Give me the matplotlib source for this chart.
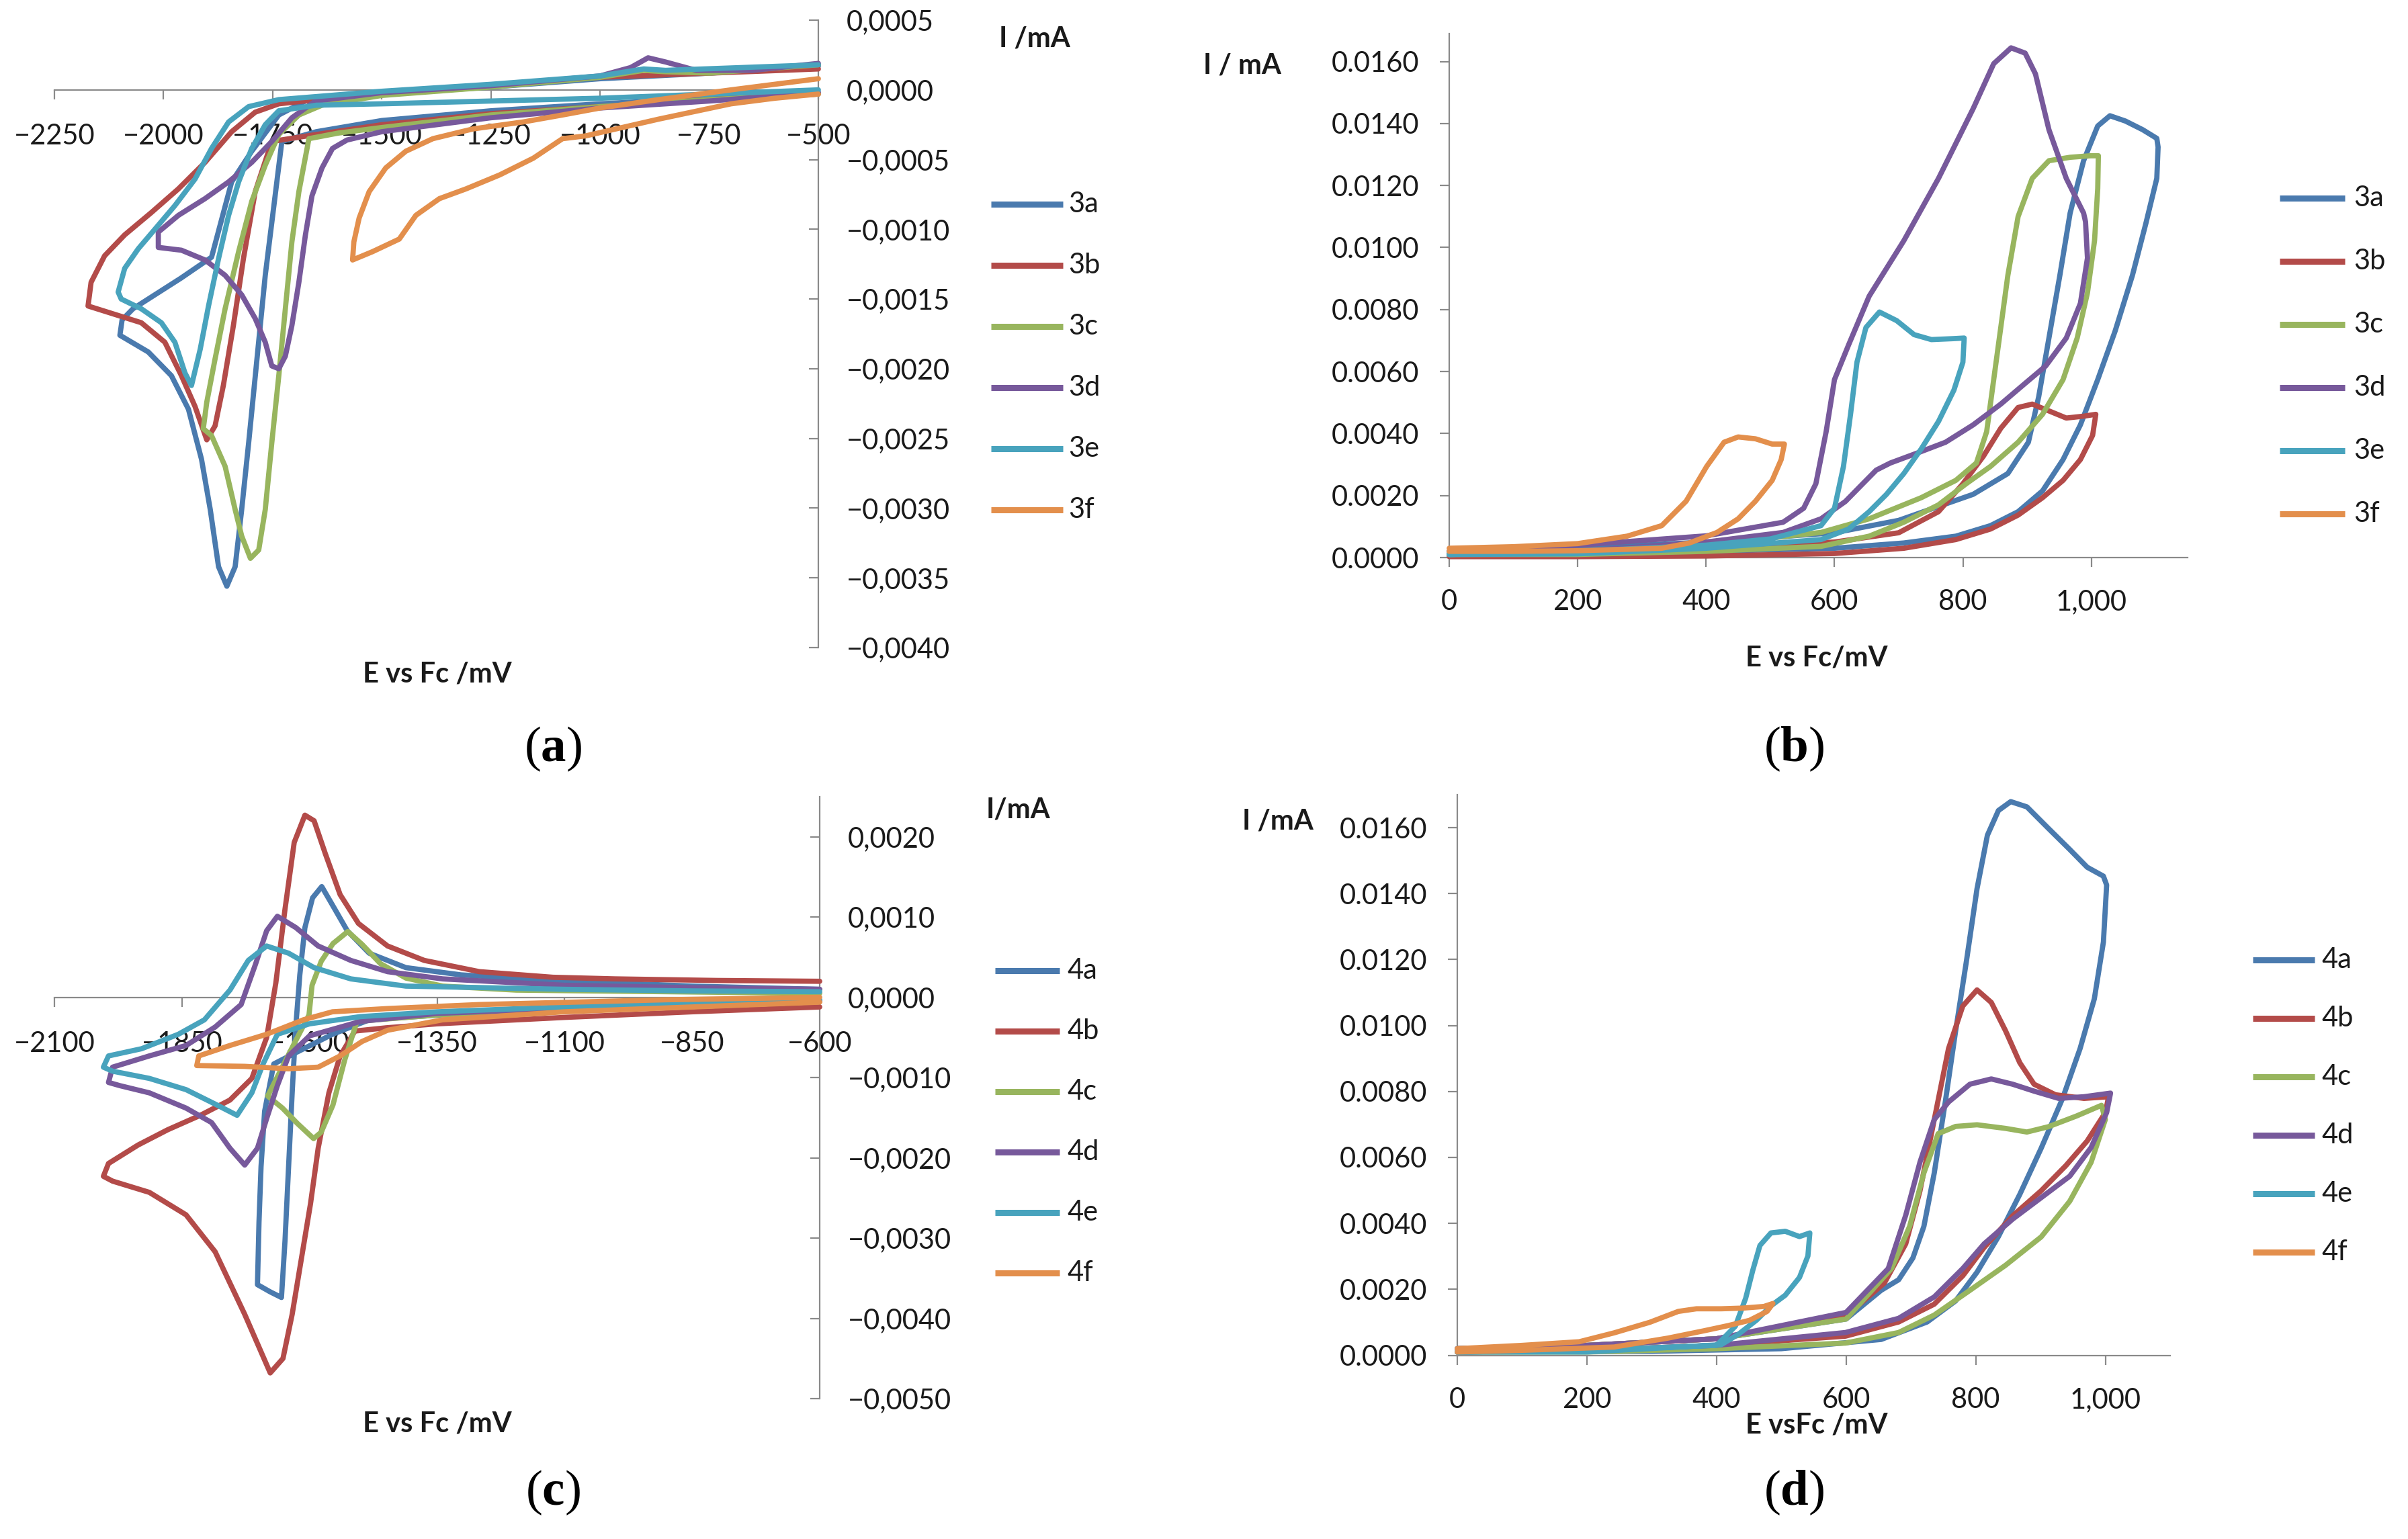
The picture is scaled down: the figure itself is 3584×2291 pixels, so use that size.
import matplotlib
matplotlib.use("Agg")
import matplotlib.pyplot as plt
from matplotlib.lines import Line2D
from matplotlib.ticker import FuncFormatter, MultipleLocator

plt.rcParams['font.family'] = ['Lato', 'DejaVu Sans']
plt.rcParams['mathtext.fontset'] = 'custom'
plt.rcParams['mathtext.rm'] = 'Liberation Serif'
plt.rcParams['mathtext.bf'] = 'Liberation Serif:bold'

# ---------------- data: panel (a), reduction of 3a-3f (E / mV, I / mA)
e_3a = [-500, -750, -1000, -1250, -1500, -1650, -1729, -1748, -1767, -1786, -1805, -1821, -1836, -1855,
        -1874, -1893, -1913, -1943, -1982, -2035, -2100, -2095, -2070, -2035, -1960, -1890, -1844, -1798,
        -1736, -1675, -1500, -1250, -1000, -750, -500]
i_3a = [-0.00002, -0.00006, -0.0001, -0.00015, -0.00022, -0.0003, -0.00037, -0.00085, -0.00133, -0.00193,
        -0.00253, -0.00301, -0.00342, -0.00356, -0.00342, -0.00301, -0.00265, -0.00229, -0.00205, -0.00188,
        -0.00176, -0.00165, -0.00157, -0.0015, -0.00135, -0.0012, -0.00066, -0.00044, -0.00018, -0.00008,
        -0.00003, 0.00002, 0.00008, 0.00012, 0.00017]
e_3b = [-500, -750, -1000, -1250, -1500, -1650, -1752, -1790, -1817, -1840, -1863, -1882, -1901, -1928,
        -1959, -1997, -2051, -2112, -2173, -2166, -2135, -2089, -2028, -1966, -1905, -1844, -1790, -1736,
        -1500, -1250, -1000, -750, -500]
i_3b = [-0.00003, -0.00007, -0.00012, -0.00017, -0.00025, -0.00032, -0.00037, -0.00073, -0.00121, -0.00169,
        -0.00212, -0.00241, -0.00251, -0.00227, -0.00205, -0.00181, -0.00167, -0.00161, -0.00155, -0.00138,
        -0.00119, -0.00104, -0.00088, -0.00071, -0.00052, -0.0003, -0.00016, -0.0001, -0.00002, 0.00003,
        0.00009, 0.00012, 0.00015]
e_3c = [-500, -750, -1000, -1250, -1500, -1600, -1667, -1690, -1706, -1721, -1736, -1752, -1767, -1782,
        -1801, -1821, -1836, -1859, -1890, -1909, -1901, -1882, -1859, -1828, -1798, -1767, -1736, -1690,
        -1637, -1500, -1250, -1000, -900, -850, -750, -500]
i_3c = [-0.00003, -0.00007, -0.00012, -0.00018, -0.00027, -0.00031, -0.00035, -0.00073, -0.00109, -0.00157,
        -0.00205, -0.00253, -0.00301, -0.0033, -0.00336, -0.0032, -0.00301, -0.0027, -0.00248, -0.00243,
        -0.00224, -0.00193, -0.00157, -0.00116, -0.0008, -0.00054, -0.00032, -0.00018, -0.00011, -0.00004,
        0.00002, 0.00009, 0.00014, 0.00013, 0.00012, 0.00018]
e_3d = [-500, -750, -1000, -1250, -1500, -1580, -1613, -1637, -1660, -1675, -1690, -1706, -1721, -1736,
        -1752, -1767, -1790, -1821, -1859, -1905, -1959, -2012, -2012, -1966, -1905, -1851, -1798, -1752,
        -1706, -1652, -1500, -1250, -1000, -930, -890, -850, -780, -650, -500]
i_3d = [-0.00002, -0.00008, -0.00013, -0.0002, -0.0003, -0.00036, -0.00042, -0.00056, -0.00076, -0.00104,
        -0.00138, -0.00169, -0.00191, -0.002, -0.00198, -0.00181, -0.00164, -0.00147, -0.00133, -0.00122,
        -0.00115, -0.00113, -0.00102, -0.0009, -0.00078, -0.00066, -0.00052, -0.00037, -0.0002, -0.00008,
        -0.00002, 0.00003, 0.0001, 0.00016, 0.00023, 0.0002, 0.00014, 0.00014, 0.00019]
e_3e = [-500, -750, -1000, -1250, -1500, -1650, -1736, -1767, -1798, -1828, -1851, -1874, -1897, -1916,
        -1936, -1951, -1974, -2005, -2051, -2097, -2104, -2089, -2058, -2020, -1974, -1928, -1890, -1851,
        -1805, -1736, -1500, -1250, -1000, -900, -850, -500]
i_3e = [0.0, -0.00003, -0.00006, -0.00008, -0.0001, -0.00011, -0.00015, -0.00025, -0.00042, -0.00066,
        -0.0009, -0.00121, -0.00155, -0.00186, -0.00212, -0.00203, -0.00181, -0.00167, -0.00157, -0.0015,
        -0.00145, -0.00128, -0.00114, -0.001, -0.00083, -0.00064, -0.00042, -0.00023, -0.00012, -0.00007,
        -0.00001, 0.00004, 0.0001, 0.00015, 0.00014, 0.00018]
e_3f = [-500, -600, -700, -866, -1033, -1086, -1153, -1230, -1307, -1368, -1422, -1460, -1521, -1567,
        -1564, -1552, -1529, -1491, -1445, -1383, -1291, -1176, -1086, -1000, -866, -700, -600, -500]
i_3f = [-0.00003, -0.00006, -0.0001, -0.00021, -0.00033, -0.00035, -0.00049, -0.00061, -0.00071, -0.00078,
        -0.0009, -0.00107, -0.00116, -0.00122, -0.00109, -0.00092, -0.00073, -0.00056, -0.00044, -0.00035,
        -0.00028, -0.00023, -0.00018, -0.00013, -0.00007, 0.0, 0.00004, 0.00008]

# ---------------- data: panel (b), oxidation of 3a-3f
eb_3a = [0, 200, 400, 600, 700, 816, 870, 902, 918, 934, 951, 967, 988, 1010, 1029, 1053, 1080, 1102, 1104,
         1102, 1085, 1064, 1037, 1010, 983, 956, 924, 886, 843, 789, 708, 600, 400, 200, 0]
ib_3a = [0.0002, 0.0003, 0.0005, 0.0008, 0.0012, 0.00204, 0.00271, 0.00372, 0.00518, 0.00708, 0.0091,
         0.01111, 0.0128, 0.01392, 0.01425, 0.01408, 0.0138, 0.01352, 0.01324, 0.01223, 0.01078, 0.0091,
         0.0073, 0.00574, 0.00428, 0.00316, 0.00215, 0.00148, 0.00103, 0.00069, 0.00047, 0.0003, 0.0002,
         0.00015, 0.0001]
eb_3b = [0, 200, 400, 600, 700, 762, 800, 832, 859, 886, 908, 934, 961, 988, 1007, 1002, 983, 956, 924,
         886, 843, 789, 708, 600, 400, 200, 0]
ib_3b = [0.0001, 0.0002, 0.0003, 0.0005, 0.0008, 0.00148, 0.00238, 0.00327, 0.00417, 0.00484, 0.00495,
         0.00473, 0.0045, 0.00456, 0.00462, 0.00394, 0.00316, 0.00249, 0.00193, 0.00137, 0.00092, 0.00058,
         0.0003, 0.00013, 0.00005, 0.00003, 0.00003]
eb_3c = [0, 200, 400, 579, 654, 735, 789, 821, 837, 848, 859, 870, 886, 908, 934, 967, 999, 1011, 1010,
         1005, 994, 978, 956, 924, 886, 843, 805, 762, 708, 654, 579, 400, 200, 0]
ib_3c = [0.0001, 0.0002, 0.0004, 0.00081, 0.00125, 0.00193, 0.00249, 0.00305, 0.00406, 0.00574, 0.00742,
         0.0091, 0.011, 0.01223, 0.0128, 0.01291, 0.01296, 0.01296, 0.0119, 0.01022, 0.00854, 0.00708,
         0.00574, 0.00462, 0.00372, 0.00294, 0.00238, 0.0017, 0.00114, 0.00069, 0.00036, 0.0002, 0.0001,
         0.0001]
eb_3d = [0, 200, 400, 520, 552, 571, 587, 600, 622, 654, 708, 762, 816, 848, 875, 897, 913, 934, 961, 988,
         991, 994, 983, 961, 929, 897, 859, 816, 773, 730, 687, 665, 644, 617, 579, 520, 400, 200, 0]
ib_3d = [0.0002, 0.0004, 0.0007, 0.00114, 0.00159, 0.00238, 0.00406, 0.00574, 0.00686, 0.00843, 0.01022,
         0.01223, 0.01448, 0.01593, 0.01644, 0.01627, 0.0156, 0.0138, 0.01223, 0.01111, 0.01083, 0.00966,
         0.0082, 0.00708, 0.00618, 0.00562, 0.00495, 0.00428, 0.00372, 0.00338, 0.00305, 0.00282, 0.00238,
         0.00181, 0.00125, 0.00081, 0.0005, 0.0002, 0.0001]
eb_3e = [0, 200, 400, 500, 579, 600, 614, 625, 635, 649, 670, 697, 724, 751, 784, 802, 800, 786, 762, 735,
         708, 681, 654, 622, 579, 400, 200, 0]
ib_3e = [0.0001, 0.0002, 0.0004, 0.0006, 0.00103, 0.00159, 0.00294, 0.00462, 0.0063, 0.00742, 0.00792,
         0.00764, 0.00719, 0.00703, 0.00706, 0.00708, 0.0063, 0.0054, 0.00439, 0.0035, 0.00271, 0.00204,
         0.00148, 0.00092, 0.00058, 0.0003, 0.00012, 0.0001]
eb_3f = [0, 100, 200, 277, 331, 369, 401, 428, 450, 477, 503, 522, 517, 503, 477, 450, 417, 374, 331, 200,
         100, 0]
ib_3f = [0.0003, 0.00035, 0.00045, 0.00069, 0.00103, 0.00182, 0.00294, 0.00372, 0.00389, 0.00383, 0.00366,
         0.00366, 0.00316, 0.00249, 0.00182, 0.00125, 0.00081, 0.00047, 0.0003, 0.00022, 0.0002, 0.0002]

# ---------------- data: panel (c), reduction of 4a-4f
e_4a = [-600, -850, -1100, -1300, -1483, -1555, -1627, -1670, -1688, -1695, -1699, -1702, -1677, -1655,
        -1648, -1641, -1634, -1627, -1619, -1609, -1594, -1576, -1555, -1526, -1483, -1411, -1303, -1123,
        -850, -600]
i_4a = [-0.00005, -0.0001, -0.00015, -0.0002, -0.00028, -0.00046, -0.00069, -0.00083, -0.00142, -0.00211,
        -0.0028, -0.00358, -0.00367, -0.00374, -0.00303, -0.00211, -0.00119, -0.00037, 0.00028, 0.00087,
        0.00124, 0.00138, 0.00115, 0.00083, 0.00055, 0.00037, 0.00028, 0.00021, 0.00014, 0.0001]
e_4b = [-600, -850, -1100, -1350, -1450, -1511, -1540, -1562, -1583, -1598, -1616, -1634, -1652, -1677,
        -1727, -1785, -1842, -1914, -1986, -2004, -1994, -1936, -1878, -1814, -1756, -1713, -1684, -1666,
        -1648, -1630, -1609, -1591, -1569, -1540, -1504, -1447, -1375, -1267, -1123, -1002, -800, -600]
i_4b = [-0.00012, -0.00018, -0.00025, -0.00033, -0.00038, -0.00042, -0.00073, -0.00119, -0.00188, -0.00257,
        -0.00326, -0.00395, -0.0045, -0.00468, -0.00395, -0.00317, -0.00271, -0.00243, -0.00229, -0.00223,
        -0.00207, -0.00184, -0.00165, -0.00147, -0.00128, -0.00101, -0.0005, 0.00018, 0.0011, 0.00193,
        0.00227, 0.0022, 0.00179, 0.00128, 0.00092, 0.00064, 0.00046, 0.00032, 0.00025, 0.00023, 0.00021,
        0.0002]
e_4c = [-600, -850, -1100, -1350, -1450, -1507, -1531, -1554, -1577, -1592, -1624, -1653, -1682, -1640,
        -1601, -1595, -1577, -1554, -1525, -1497, -1461, -1411, -1339, -1195, -900, -600]
i_4c = [-0.00005, -0.0001, -0.00015, -0.00022, -0.00027, -0.0003, -0.00078, -0.00134, -0.00168, -0.00176,
        -0.00157, -0.00138, -0.00123, -0.0007, -0.00022, 0.00015, 0.00045, 0.00067, 0.00082, 0.00066,
        0.00042, 0.00024, 0.00014, 0.00009, 0.00007, 0.00005]
e_4d = [-600, -850, -1100, -1350, -1500, -1600, -1641, -1663, -1684, -1702, -1727, -1756, -1792, -1842,
        -1914, -1972, -1994, -1986, -1914, -1842, -1785, -1734, -1706, -1684, -1663, -1627, -1583, -1519,
        -1447, -1339, -1100, -850, -600]
i_4d = [-0.00004, -0.00009, -0.00014, -0.0002, -0.0003, -0.00048, -0.00073, -0.0011, -0.00151, -0.00188,
        -0.00209, -0.00188, -0.00156, -0.00138, -0.00119, -0.0011, -0.00106, -0.00087, -0.00073, -0.0006,
        -0.00037, -0.00009, 0.00041, 0.00083, 0.00101, 0.00087, 0.00064, 0.00046, 0.00032, 0.00023,
        0.00015, 0.00012, 0.0001]
e_4e = [-600, -850, -1100, -1350, -1500, -1600, -1663, -1691, -1713, -1742, -1785, -1842, -1914, -1986,
        -2004, -1994, -1929, -1857, -1806, -1756, -1720, -1684, -1641, -1591, -1519, -1411, -1100, -850, -600]
i_4e = [-0.00003, -0.00008, -0.00012, -0.00018, -0.00024, -0.00033, -0.00046, -0.00083, -0.00119, -0.00147,
        -0.00133, -0.00115, -0.00101, -0.00092, -0.00087, -0.00073, -0.00064, -0.00046, -0.00028, 0.00009,
        0.00046, 0.00064, 0.00055, 0.00037, 0.00023, 0.00014, 0.0001, 0.00008, 0.00007]
e_4f = [-600, -850, -1100, -1339, -1447, -1497, -1540, -1583, -1641, -1727, -1821, -1817, -1756, -1684,
        -1612, -1555, -1447, -1267, -900, -600]
i_4f = [-0.00006, -0.00012, -0.00018, -0.00028, -0.00041, -0.00055, -0.00073, -0.00087, -0.00089, -0.00086,
        -0.00085, -0.00073, -0.0006, -0.00046, -0.00028, -0.00018, -0.00014, -0.00009, -0.00003, 0.0]

# ---------------- data: panel (d), oxidation of 4a-4f
ed_4a = [0, 200, 400, 600, 654, 681, 703, 720, 736, 753, 769, 786, 802, 818, 835, 854, 879, 912, 945, 972,
         997, 1002, 997, 983, 961, 934, 901, 868, 835, 802, 769, 725, 654, 500, 300, 0]
id_4a = [0.0002, 0.0003, 0.0005, 0.0011, 0.00197, 0.00229, 0.00295, 0.00391, 0.00553, 0.00768, 0.00984,
         0.012, 0.01415, 0.01577, 0.01652, 0.01679, 0.01663, 0.01598, 0.01534, 0.0148, 0.01453, 0.01426,
         0.01253, 0.01081, 0.0093, 0.00779, 0.00628, 0.00488, 0.0036, 0.00252, 0.00165, 0.00101, 0.00048,
         0.0002, 0.00012, 0.0001]
ed_4b = [0, 200, 400, 600, 659, 692, 714, 736, 758, 780, 802, 824, 846, 868, 890, 923, 967, 1005, 1000, 972,
         939, 901, 857, 813, 780, 736, 681, 599, 400, 200, 0]
id_4b = [0.0002, 0.0003, 0.0005, 0.0012, 0.00219, 0.00338, 0.00499, 0.00715, 0.0093, 0.01059, 0.01108,
         0.0107, 0.00984, 0.00887, 0.00822, 0.0079, 0.00779, 0.00784, 0.00736, 0.0065, 0.00575, 0.00499,
         0.00423, 0.00327, 0.00241, 0.00155, 0.00101, 0.00058, 0.0003, 0.00015, 0.0001]
ed_4c = [0, 200, 400, 600, 670, 698, 720, 742, 769, 802, 846, 879, 912, 956, 994, 1000, 978, 945, 901, 846,
         791, 736, 681, 599, 400, 200, 0]
id_4c = [0.0002, 0.0003, 0.0005, 0.0011, 0.00263, 0.00391, 0.00553, 0.00672, 0.00694, 0.00699, 0.00688,
         0.00677, 0.00693, 0.00726, 0.00758, 0.00715, 0.00585, 0.00467, 0.00359, 0.00273, 0.00197, 0.00122,
         0.00069, 0.00037, 0.0002, 0.0001, 0.0001]
ed_4d = [0, 200, 400, 600, 665, 692, 714, 736, 758, 791, 824, 857, 890, 928, 967, 1008, 1002, 978, 945, 901,
         857, 813, 780, 736, 681, 599, 400, 200, 0]
id_4d = [0.0002, 0.0003, 0.0005, 0.0013, 0.00263, 0.00425, 0.00586, 0.00715, 0.00768, 0.00822, 0.00838,
         0.00822, 0.00801, 0.00779, 0.00784, 0.00795, 0.00736, 0.0063, 0.00543, 0.00478, 0.00413, 0.00338,
         0.00263, 0.00177, 0.00112, 0.00069, 0.0003, 0.00015, 0.0001]
ed_4e = [0, 200, 400, 429, 445, 456, 467, 484, 506, 528, 544, 541, 528, 506, 484, 462, 434, 407, 200, 0]
id_4e = [0.0001, 0.00015, 0.0003, 0.00088, 0.00173, 0.00258, 0.00333, 0.00371, 0.00376, 0.0036, 0.00371,
         0.00301, 0.00236, 0.00182, 0.0015, 0.00107, 0.00064, 0.00032, 0.0001, 0.0001]
ed_4f = [0, 100, 188, 242, 297, 341, 369, 407, 440, 473, 487, 478, 451, 418, 380, 325, 242, 100, 0]
id_4f = [0.0002, 0.0003, 0.00041, 0.00068, 0.001, 0.00133, 0.00141, 0.00141, 0.00143, 0.00148, 0.00157,
         0.00133, 0.00106, 0.0009, 0.00074, 0.00052, 0.00025, 0.00015, 0.0001]

names_3 = ['3a', '3b', '3c', '3d', '3e', '3f']
names_4 = ['4a', '4b', '4c', '4d', '4e', '4f']
colors = ['#4A7AAE', '#B34B49', '#98B55E', '#77599B', '#48A3BD', '#E38F4C']

# tick positions of the four panels
xticks_a = [-2250, -2000, -1750, -1500, -1250, -1000, -750, -500]
xticks_c = [-2100, -1850, -1600, -1350, -1100, -850, -600]
xticks_ox = [0, 200, 400, 600, 800, 1000]

# figure geometry in pixels of the 3584 x 2291 picture
W, H = 3584, 2291
fig = plt.figure(figsize=(W / 100, H / 100), dpi=100)
fig.patch.set_facecolor('white')

GREY = '#8a8a8a'
TXT = '#1a1a1a'
FS = 30


def rect(x0, x1, ytop, ybot):
    return [x0 / W, 1 - ybot / H, (x1 - x0) / W, (ybot - ytop) / H]


def fx(x):
    return x / W


def fy(y):
    return 1 - y / H


def minus_int(v, pos):
    v = int(round(v))
    return '\u2212' + str(abs(v)) if v < 0 else str(v)


def comma4(v, pos):
    s = f"{abs(v):.4f}".replace('.', ',')
    return '\u2212' + s if v < -1e-9 else s


def dot4(v, pos):
    return f"{abs(v):.4f}"


def thousands(v, pos):
    return f"{int(round(v)):,}"


def reduction_axes(r, xlim, ylim, xticks, ystep):
    ax = fig.add_axes(r)
    ax.set_xlim(*xlim)
    ax.set_ylim(*ylim)
    ax.patch.set_alpha(0)
    for s in ['left', 'top']:
        ax.spines[s].set_visible(False)
    ax.spines['bottom'].set_position(('data', 0))
    for s in ['bottom', 'right']:
        ax.spines[s].set_color(GREY)
        ax.spines[s].set_linewidth(1.6)
    ax.yaxis.tick_right()
    ax.set_xticks(xticks)
    ax.yaxis.set_major_locator(MultipleLocator(ystep))
    ax.xaxis.set_major_formatter(FuncFormatter(minus_int))
    ax.yaxis.set_major_formatter(FuncFormatter(comma4))
    ax.tick_params(axis='x', direction='out', length=10, width=1.6, color=GREY, pad=26,
                   labelsize=FS, labelcolor=TXT)
    ax.tick_params(axis='y', direction='in', length=10, width=1.6, color=GREY, pad=30,
                   labelsize=FS, labelcolor=TXT)
    return ax


def oxidation_axes(r, xlim, ylim):
    ax = fig.add_axes(r)
    ax.set_xlim(*xlim)
    ax.set_ylim(*ylim)
    ax.patch.set_alpha(0)
    for s in ['right', 'top']:
        ax.spines[s].set_visible(False)
    for s in ['bottom', 'left']:
        ax.spines[s].set_color(GREY)
        ax.spines[s].set_linewidth(1.6)
    ax.set_xticks(xticks_ox)
    ax.yaxis.set_major_locator(MultipleLocator(0.002))
    ax.xaxis.set_major_formatter(FuncFormatter(thousands))
    ax.yaxis.set_major_formatter(FuncFormatter(dot4))
    ax.tick_params(axis='x', direction='out', length=10, width=1.6, color=GREY, pad=24,
                   labelsize=FS, labelcolor=TXT)
    ax.tick_params(axis='y', direction='out', length=10, width=1.6, color=GREY, pad=22,
                   labelsize=FS, labelcolor=TXT)
    return ax


def draw_curves(ax, series):
    for (e, i), c in zip(series, colors):
        ax.plot(e, i, color=c, lw=5.6, solid_joinstyle='round', solid_capstyle='round',
                zorder=3, clip_on=False)


def draw_legend(names, x0, x1, xt, y0, dy):
    for k, (n, c) in enumerate(zip(names, colors)):
        y = y0 + k * dy
        fig.add_artist(Line2D([fx(x0), fx(x1)], [fy(y), fy(y)], color=c, lw=6.5,
                              solid_capstyle='butt', transform=fig.transFigure))
        fig.text(fx(xt), fy(y), n, fontsize=FS, color=TXT, ha='left', va='center')


def caption(letter, x, y):
    fig.text(fx(x), fy(y), '($\\mathbf{' + letter + '}$)', fontsize=54, color='black',
             family='Liberation Serif', ha='center', va='center')


# ---------------- (a)
ax_a = reduction_axes(rect(81, 1218, 30, 964), (-2250, -500), (-0.0040, 0.0005), xticks_a, 0.0005)
draw_curves(ax_a, [(e_3a, i_3a), (e_3b, i_3b), (e_3c, i_3c), (e_3d, i_3d), (e_3e, i_3e), (e_3f, i_3f)])
fig.text(fx(1540), fy(57), 'I /mA', fontsize=FS, weight='bold', color=TXT, ha='center', va='center')
fig.text(fx(651), fy(1003), 'E vs Fc /mV', fontsize=FS, weight='bold', color=TXT, ha='center', va='center')
draw_legend(names_3, 1475, 1582, 1590, 304, 91)
caption('a', 823, 1115)

# ---------------- (b)
ax_b = oxidation_axes(rect(2157, 3256, 50, 830), (0, 1150), (0, 0.0169))
draw_curves(ax_b, [(eb_3a, ib_3a), (eb_3b, ib_3b), (eb_3c, ib_3c), (eb_3d, ib_3d), (eb_3e, ib_3e),
                   (eb_3f, ib_3f)])
fig.text(fx(1849), fy(98), 'I / mA', fontsize=FS, weight='bold', color=TXT, ha='center', va='center')
fig.text(fx(2704), fy(980), 'E vs Fc/mV', fontsize=FS, weight='bold', color=TXT, ha='center', va='center')
draw_legend(names_3, 3393, 3490, 3503, 295, 94)
caption('b', 2670, 1115)

# ---------------- (c)
ax_c = reduction_axes(rect(81, 1220, 1186, 2082), (-2100, -600), (-0.0050, 0.0025), xticks_c, 0.001)
draw_curves(ax_c, [(e_4a, i_4a), (e_4b, i_4b), (e_4c, i_4c), (e_4d, i_4d), (e_4e, i_4e), (e_4f, i_4f)])
fig.text(fx(1515), fy(1205), 'I/mA', fontsize=FS, weight='bold', color=TXT, ha='center', va='center')
fig.text(fx(651), fy(2120), 'E vs Fc /mV', fontsize=FS, weight='bold', color=TXT, ha='center', va='center')
draw_legend(names_4, 1481, 1577, 1588, 1445, 90)
caption('c', 823, 2222)

# ---------------- (d)
ax_d = oxidation_axes(rect(2169, 3230, 1183, 2017.5), (0, 1100), (0, 0.0170))
draw_curves(ax_d, [(ed_4a, id_4a), (ed_4b, id_4b), (ed_4c, id_4c), (ed_4d, id_4d), (ed_4e, id_4e),
                   (ed_4f, id_4f)])
fig.text(fx(1902), fy(1223), 'I /mA', fontsize=FS, weight='bold', color=TXT, ha='center', va='center')
fig.text(fx(2704), fy(2121), 'E vsFc /mV', fontsize=FS, weight='bold', color=TXT, ha='center', va='center')
draw_legend(names_4, 3353, 3445, 3455, 1429, 87)
caption('d', 2670, 2222)

fig.savefig('out.png', dpi=100, facecolor='white')
